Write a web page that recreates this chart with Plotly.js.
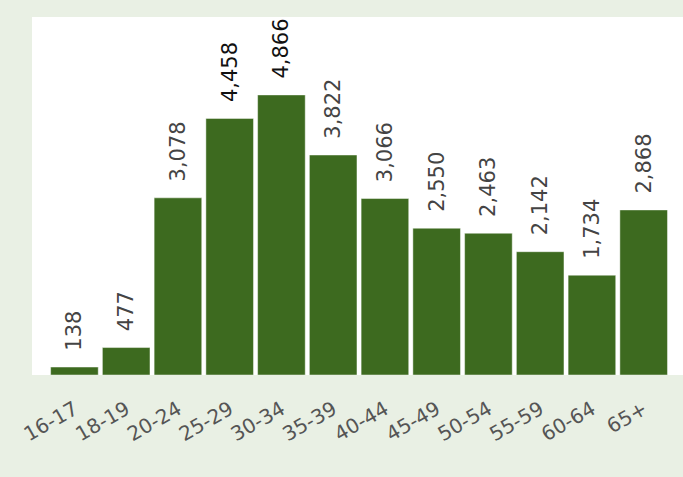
<!DOCTYPE html>
<html>
<head>
<meta charset="utf-8">
<script src="https://cdn.plot.ly/plotly-3.0.1.min.js"></script>
<style>html,body{margin:0;padding:0;background:#e9f0e4;}#chart{width:683px;height:477px;}</style>
</head>
<body>
<div id="chart"></div>
<script>
const ageGroups = ["16-17","18-19","20-24","25-29","30-34","35-39","40-44","45-49","50-54","55-59","60-64","65+"];
const counts = [138, 477, 3078, 4458, 4866, 3822, 3066, 2550, 2463, 2142, 1734, 2868];
const labelColors = ["#444","#444","#444","#111","#111","#444","#444","#444","#444","#444","#444","#444"];

Plotly.newPlot("chart", [{
  type: "bar",
  x: ageGroups,
  y: counts,
  marker: {color: "#3d6a1f", line: {color: "rgba(255,255,255,0.45)", width: 1}},
  texttemplate: "\u00a0\u00a0%{y:,}",
  textposition: "outside",
  textangle: -90,
  constraintext: "none",
  cliponaxis: false,
  textfont: {family: "DejaVu Sans", size: 21, color: labelColors},
  hoverinfo: "none"
}], {
  width: 683, height: 477,
  margin: {l: 32, r: 0, t: 17, b: 102},
  paper_bgcolor: "#e9f0e4",
  plot_bgcolor: "#ffffff",
  bargap: 0.08,
  showlegend: false,
  xaxis: {
    type: "category",
    range: [-0.82, 11.76],
    tickangle: -30,
    tickfont: {family: "DejaVu Sans", size: 20, color: "#555"},
    ticks: "outside", ticklen: 14, tickcolor: "rgba(0,0,0,0)",
    showgrid: false, zeroline: false, showline: false
  },
  yaxis: {
    range: [0, 6220],
    visible: false,
    showgrid: false, zeroline: false
  }
}, {displayModeBar: false, staticPlot: true});
</script>
</body>
</html>
